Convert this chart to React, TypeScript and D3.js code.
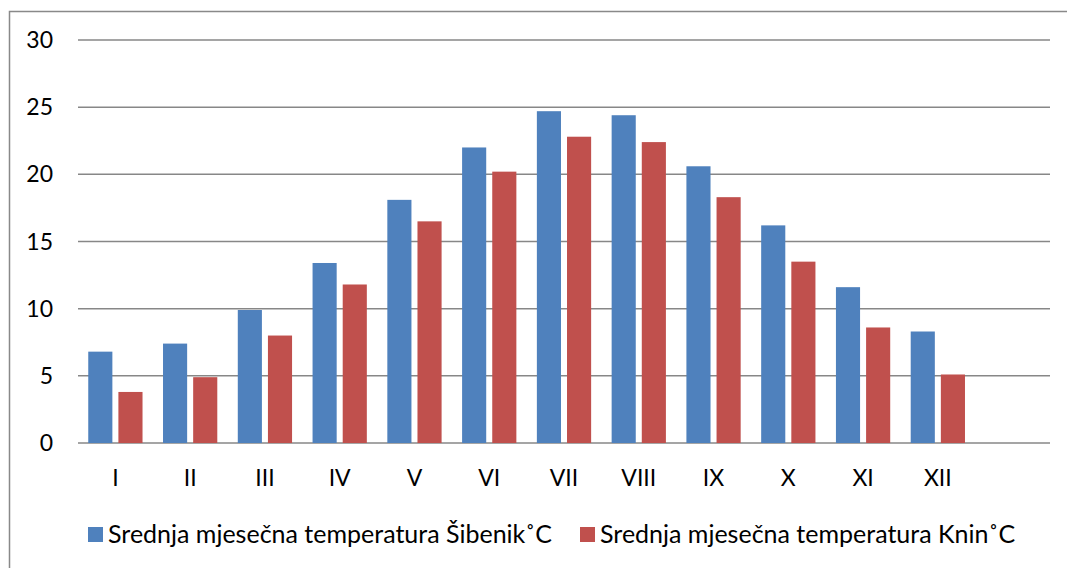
import React, { useEffect, useRef } from 'react';
import * as d3 from 'd3';

const months = ['I', 'II', 'III', 'IV', 'V', 'VI', 'VII', 'VIII', 'IX', 'X', 'XI', 'XII', ''];
const sibenik = [6.8, 7.4, 9.9, 13.4, 18.1, 22.0, 24.7, 24.4, 20.6, 16.2, 11.6, 8.3];
const knin = [3.8, 4.9, 8.0, 11.8, 16.5, 20.2, 22.8, 22.4, 18.3, 13.5, 8.6, 5.1];
const seriesNames = [
  'Srednja mjesečna temperatura Šibenik˚C',
  'Srednja mjesečna temperatura Knin˚C',
];
const seriesColors = ['#4f81bd', '#c0504d'];
const yTicks = [0, 5, 10, 15, 20, 25, 30];

const W = 1067;
const H = 568;
const FONT = 'Lato, "Open Sans", sans-serif';

const App: React.FC = () => {
  const svgRef = useRef<SVGSVGElement>(null);

  useEffect(() => {
    if (!svgRef.current) return;
    const svg = d3.select(svgRef.current);
    svg.selectAll('*').remove();

    const left = 78, right = 1050, top = 40, bottom = 443;

    const x = d3.scaleBand<string>()
      .domain(months.map((m, i) => `${i}`))
      .range([left, right])
      .paddingInner(0)
      .paddingOuter(0);
    const inner = d3.scaleBand<number>()
      .domain([0, 1])
      .range([0, x.bandwidth()])
      .paddingInner(0.2)
      .paddingOuter(0.34);
    const y = d3.scaleLinear().domain([0, 30]).range([bottom, top]);

    // chart frame (right and bottom edges fall outside the picture)
    svg.append('rect')
      .attr('x', 9.5).attr('y', 11.5)
      .attr('width', W + 20).attr('height', H + 20)
      .attr('fill', '#fff')
      .attr('stroke', '#898989')
      .attr('stroke-width', 1.5);

    // gridlines
    svg.append('g')
      .selectAll('line')
      .data(yTicks)
      .join('line')
      .attr('x1', left).attr('x2', right)
      .attr('y1', d => y(d)).attr('y2', d => y(d))
      .attr('stroke', '#878787')
      .attr('stroke-width', 1.5);

    // y labels
    svg.append('g')
      .selectAll('text')
      .data(yTicks)
      .join('text')
      .attr('x', 53)
      .attr('y', d => y(d))
      .attr('dy', '0.35em')
      .attr('text-anchor', 'end')
      .attr('font-family', FONT)
      .attr('font-size', 23)
      .attr('fill', '#000')
      .text(d => d);

    // bars
    const groups = [sibenik, knin];
    groups.forEach((vals, s) => {
      svg.append('g')
        .selectAll('rect')
        .data(vals)
        .join('rect')
        .attr('x', (_, i) => (x(`${i}`) as number) + (inner(s) as number))
        .attr('y', d => y(d))
        .attr('width', inner.bandwidth())
        .attr('height', d => bottom - y(d))
        .attr('fill', seriesColors[s]);
    });

    // x labels
    svg.append('g')
      .selectAll('text')
      .data(months)
      .join('text')
      .attr('x', (_, i) => (x(`${i}`) as number) + x.bandwidth() / 2)
      .attr('y', 478)
      .attr('dy', '0.35em')
      .attr('text-anchor', 'middle')
      .attr('font-family', FONT)
      .attr('font-size', 23)
      .attr('fill', '#000')
      .text(d => d);

    // legend
    const legendX = [88, 580];
    seriesNames.forEach((name, s) => {
      const g = svg.append('g').attr('transform', `translate(${legendX[s]},527)`);
      g.append('rect')
        .attr('width', 15).attr('height', 15)
        .attr('fill', seriesColors[s]);
      g.append('text')
        .attr('x', 20)
        .attr('y', 7.5)
        .attr('dy', '0.35em')
        .attr('font-family', FONT)
        .attr('font-size', 25)
        .attr('fill', '#000')
        .text(name);
    });
  }, []);

  return (
    <div style={{ position: 'fixed', left: 0, top: 0, width: W, height: H, background: '#fff' }}>
      <svg ref={svgRef} width={W} height={H} style={{ display: 'block' }} />
    </div>
  );
};

export default App;
